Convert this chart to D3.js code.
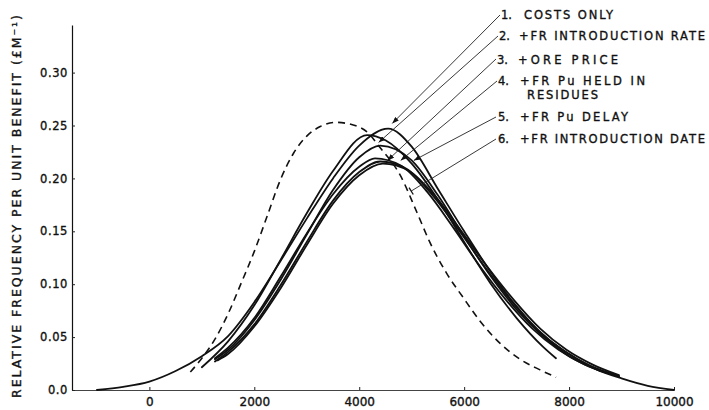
<!DOCTYPE html>
<html><head><meta charset="utf-8">
<script src="https://cdn.jsdelivr.net/npm/d3@7"></script>
<style>
html,body{margin:0;padding:0;background:#fff;}
svg{display:block;}
text{font-family:"DejaVu Sans",sans-serif;fill:#111;stroke:#111;stroke-width:0.35px;}
</style></head>
<body>
<svg id="chart" width="709" height="410"></svg>
<script>
// ---- data (benefit in £M, relative frequency) ----
const xTickValues = [0, 2000, 4000, 6000, 8000, 10000];
const xTickLabels = ["0", "2000", "4000", "6000", "8000", "10000"];
const yTickValues = [0, 0.05, 0.10, 0.15, 0.20, 0.25, 0.30];
const yTickLabels = ["0.0", "0.05", "0.10", "0.15", "0.20", "0.25", "0.30"];
const yTitle = "RELATIVE FREQUENCY PER UNIT BENEFIT (£M⁻¹)";

const legendNumbers = ["1.", "2.", "3.", "4.", "5.", "6."];
const legendLabels = [["COSTS ONLY"], ["+FR INTRODUCTION RATE"], ["+ORE PRICE"],
  ["+FR Pu HELD IN", "RESIDUES"], ["+FR Pu DELAY"], ["+FR INTRODUCTION DATE"]];

const curve1 = [[-1000,0.000],[-500,0.003],[0,0.008],[500,0.018],[1000,0.032],[1500,0.051],[2000,0.083],[2500,0.122],[3000,0.162],[3500,0.200],[4000,0.231],[4550,0.247],[5000,0.230],[5500,0.190],[6000,0.150],[6500,0.112],[7000,0.079],[7500,0.052],[8000,0.034],[8500,0.020],[9000,0.011],[9500,0.004],[10000,0.000]];
const curve2 = [[1000,0.0215],[1500,0.046],[2000,0.080],[2500,0.123],[3000,0.167],[3500,0.207],[4150,0.241],[4500,0.236],[5000,0.214],[5500,0.180],[6000,0.140],[6500,0.101],[7000,0.068],[7500,0.041],[7750,0.030]];
const curve3 = [[1250,0.029],[1500,0.038],[2000,0.066],[2500,0.104],[3000,0.147],[3500,0.189],[4000,0.220],[4400,0.231],[5000,0.217],[5500,0.184],[6000,0.145],[6500,0.108],[7000,0.076],[7500,0.051],[8000,0.032],[8500,0.020],[8950,0.013]];
const curve4 = [[1250,0.030],[1500,0.040],[2000,0.068],[2500,0.107],[3000,0.148],[3500,0.185],[4000,0.211],[4300,0.219],[4800,0.212],[5300,0.187],[5800,0.153],[6300,0.117],[6800,0.085],[7300,0.058],[7800,0.038],[8300,0.024],[8950,0.013]];
const curve5 = [[1250,0.027],[1500,0.036],[2000,0.062],[2500,0.099],[3000,0.140],[3500,0.179],[4000,0.206],[4400,0.216],[4900,0.209],[5400,0.184],[5900,0.151],[6400,0.116],[6900,0.084],[7400,0.057],[7900,0.037],[8400,0.023],[8950,0.013]];
const curve6 = [[1300,0.028],[1500,0.034],[2000,0.060],[2500,0.096],[3000,0.137],[3500,0.176],[4000,0.203],[4450,0.214],[4950,0.207],[5450,0.183],[5950,0.150],[6450,0.116],[6950,0.085],[7450,0.058],[7950,0.038],[8450,0.024],[8950,0.014]];
const dashedCurve = [[781,0.017],[1000,0.030],[1250,0.048],[1500,0.072],[1750,0.101],[2000,0.131],[2250,0.165],[2500,0.199],[2750,0.224],[3000,0.240],[3257,0.249],[3543,0.253],[3886,0.2505],[4147,0.244],[4400,0.229],[4781,0.203],[5099,0.168],[5352,0.139],[5670,0.110],[5987,0.087],[6305,0.065],[6686,0.044],[7067,0.029],[7448,0.019],[7752,0.012]];

// leader targets (benefit, frequency) where each legend leader points
const leaderTargets = [[4630,0.252],[4370,0.234],[4540,0.217],[4790,0.217],[5040,0.217],[4990,0.188]];

// ---- drawing ----
const svg = d3.select("#chart");
const x = d3.scaleLinear().domain([-1475, 10000]).range([72, 674]);
const y = d3.scaleLinear().domain([0, 0.345]).range([390, 25]);

// x axis
const xAxis = d3.axisBottom(x).tickValues(xTickValues)
  .tickFormat((d,i) => xTickLabels[i]).tickSizeInner(-3).tickSizeOuter(0).tickPadding(7);
const gx = svg.append("g").attr("transform", "translate(0,390)").call(xAxis);
gx.select(".domain").attr("stroke", "#444").attr("stroke-width", 1);
gx.selectAll(".tick line").attr("stroke", "#222");
gx.selectAll("text").attr("font-size", 12).attr("font-family", "DejaVu Sans").attr("fill", "#111");

// y axis
const yAxis = d3.axisLeft(y).tickValues(yTickValues)
  .tickFormat((d,i) => yTickLabels[i]).tickSizeInner(-3).tickSizeOuter(0).tickPadding(4);
const gy = svg.append("g").attr("transform", "translate(72,0)").call(yAxis);
gy.select(".domain").attr("stroke", "#111").attr("stroke-width", 1.2);
gy.selectAll(".tick line").attr("stroke", "#222");
gy.selectAll("text").attr("font-size", 11.5).attr("font-family", "DejaVu Sans")
  .attr("fill", "#111").attr("letter-spacing", 0.6);

// y title
svg.append("text").attr("transform", "translate(21,206.5) rotate(-90)")
  .attr("text-anchor", "middle").attr("font-size", 12.5)
  .attr("textLength", 383).attr("lengthAdjust", "spacing").text(yTitle);

// curves
const line = d3.line().x(d => x(d[0])).y(d => y(d[1])).curve(d3.curveMonotoneX);
[curve1, curve2, curve3, curve4, curve5, curve6].forEach(c => {
  svg.append("path").attr("d", line(c)).attr("fill", "none")
    .attr("stroke", "#111").attr("stroke-width", 1.8).attr("stroke-linecap", "round");
});
svg.append("path").attr("d", line(dashedCurve)).attr("fill", "none")
  .attr("stroke", "#111").attr("stroke-width", 1.6).attr("stroke-dasharray", "7,5");

// arrow marker
svg.append("defs").append("marker").attr("id", "arr")
  .attr("viewBox", "0 0 8 6").attr("refX", 8).attr("refY", 3)
  .attr("markerWidth", 7).attr("markerHeight", 5).attr("orient", "auto")
  .attr("markerUnits", "userSpaceOnUse")
  .append("path").attr("d", "M0,0 L8,3 L0,6 z").attr("fill", "#111");

// legend
const rowBase = [19, 40, 64, 85, 121, 143];
const numX = [501, 499, 497, 498, 498, 498];
const labX = [[524], [519], [518], [520, 527], [520], [520]];
const labLen = [[89], [186], [100], [125, 71], [108], [185]];
const leaderStart = [[500,15],[498,36],[496,59],[497,81],[496,117],[496,139]];
legendNumbers.forEach((n, i) => {
  svg.append("text").attr("x", numX[i]).attr("y", rowBase[i]).attr("font-size", 11.5).text(n);
  legendLabels[i].forEach((t, j) => {
    svg.append("text").attr("x", labX[i][j]).attr("y", rowBase[i] + j * 14)
      .attr("font-size", 11.5).attr("textLength", labLen[i][j])
      .attr("lengthAdjust", "spacing").text(t);
  });
  const tx = x(leaderTargets[i][0]), ty = y(leaderTargets[i][1]);
  const l = svg.append("line").attr("x1", leaderStart[i][0]).attr("y1", leaderStart[i][1])
    .attr("x2", tx).attr("y2", ty).attr("stroke", "#222").attr("stroke-width", 0.9);
  if (i < 5) l.attr("marker-end", "url(#arr)");
  else {
    const dx = tx - leaderStart[i][0], dy = ty - leaderStart[i][1];
    const len = Math.hypot(dx, dy), px = -dy / len * 4, py = dx / len * 4;
    svg.append("line").attr("x1", tx - px).attr("y1", ty - py).attr("x2", tx + px).attr("y2", ty + py)
      .attr("stroke", "#111").attr("stroke-width", 1.3);
  }
});
</script>
</body></html>
